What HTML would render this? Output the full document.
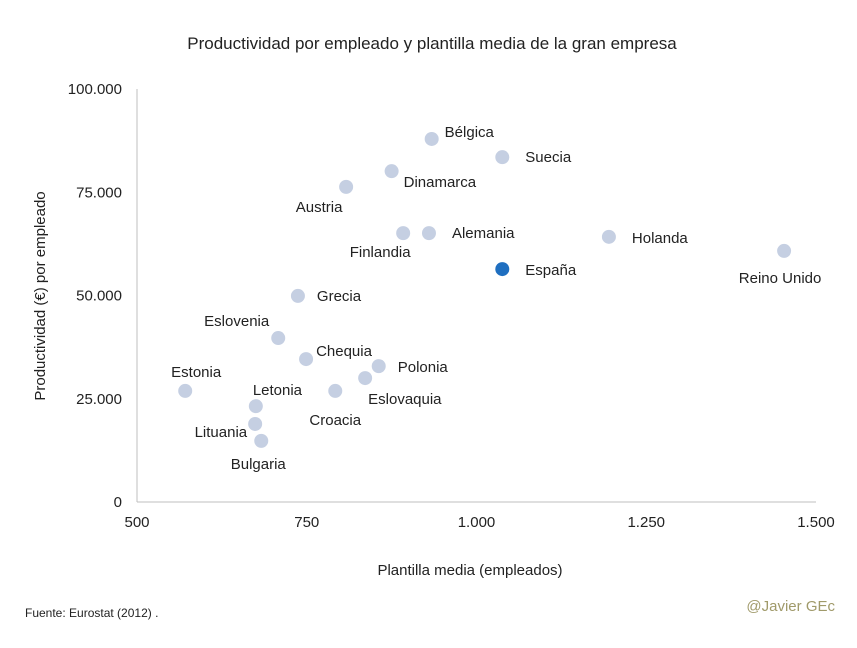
<!DOCTYPE html>
<html><head><meta charset="utf-8"><style>
body{margin:0;background:#fff;font-family:"Liberation Sans",sans-serif}
svg text{font-family:"Liberation Sans",sans-serif;fill:#222}
</style></head><body>
<svg id="chart" width="857" height="643" viewBox="0 0 857 643">
<text x="432" y="49" text-anchor="middle" font-size="17">Productividad por empleado y plantilla media de la gran empresa</text>
<line x1="137" y1="89" x2="137" y2="502" stroke="#bfbfbf"/>
<line x1="137" y1="502" x2="816" y2="502" stroke="#bfbfbf"/>
<text x="470" y="575" text-anchor="middle" font-size="15">Plantilla media (empleados)</text>
<text transform="translate(45,296) rotate(-90)" text-anchor="middle" font-size="15">Productividad (€) por empleado</text>
<text x="25" y="617" font-size="12">Fuente: Eurostat (2012) .</text>
<text x="835" y="611" text-anchor="end" font-size="15" style="fill:#a09a6a">@Javier GEc</text>
<g id="xt"></g><g id="yt"></g><g id="pts"></g>
</svg>
<script>
const countries=["Bélgica","Suecia","Dinamarca","Austria","Finlandia","Alemania","Holanda","Reino Unido","España","Grecia","Eslovenia","Chequia","Polonia","Eslovaquia","Croacia","Estonia","Letonia","Lituania","Bulgaria"];
const plantilla=[934,1038,875,808,892,930,1195,1453,1038,737,708,749,856,836,792,571,675,674,683];
const productividad=[87900,83500,80100,76300,65100,65100,64200,60800,56400,49900,39700,34600,32900,30000,26900,26900,23200,18900,14800];
const xTicks=[500,750,1000,1250,1500];
const xTickLabels=["500","750","1.000","1.250","1.500"];
const yTicks=[0,25000,50000,75000,100000];
const yTickLabels=["0","25.000","50.000","75.000","100.000"];
const labelDx=[13,23,12,-27,-23,23,23,-4,23,19,-9,10,19,3,0,11,-3,-8,-3];
const labelDy=[-7,0,11,20,19,0,1,27,1,0,-17,-8,1,21,29,-19,-16,8,23];
const labelAnchor=["start","start","start","middle","middle","start","start","middle","start","start","end","start","start","start","middle","middle","start","end","middle"];
const NS="http://www.w3.org/2000/svg";
const X=v=>137+(v-500)*(679/1000);
const Y=v=>502-v*(413/100000);
function mk(t,a,txt){const e=document.createElementNS(NS,t);for(const k in a)e.setAttribute(k,a[k]);if(txt!==undefined)e.textContent=txt;return e;}
const xt=document.getElementById('xt'),yt=document.getElementById('yt'),pts=document.getElementById('pts');
xTicks.forEach((v,i)=>{const t=mk('text',{x:X(v),y:527,'text-anchor':'middle','font-size':15},xTickLabels[i]);


xt.appendChild(t);});
yTicks.forEach((v,i)=>{const t=mk('text',{x:122,y:Y(v)+5,'text-anchor':'end','font-size':15},yTickLabels[i]);


yt.appendChild(t);});
countries.forEach((c,i)=>{
const cx=X(plantilla[i]),cy=Y(productividad[i]);
const p=mk('circle',{cx:cx,cy:cy,r:7,fill:c==="España"?"#1f6fc0":"#c5cfe2"});


pts.appendChild(p);
const l=mk('text',{x:cx+labelDx[i],y:cy+labelDy[i]+5,'text-anchor':labelAnchor[i],'font-size':15},c);


pts.appendChild(l);
});
</script>
</body></html>
